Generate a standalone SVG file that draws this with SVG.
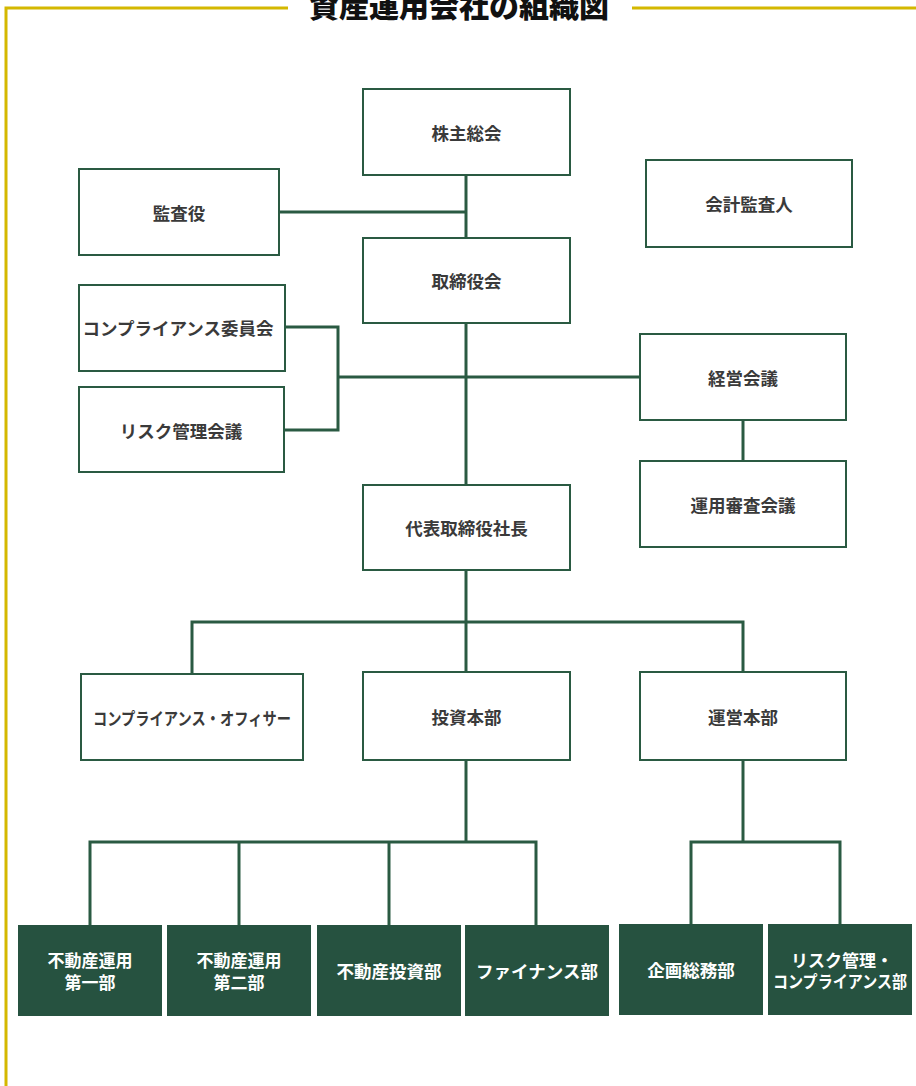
<svg xmlns="http://www.w3.org/2000/svg" width="916" height="1086" viewBox="0 0 916 1086">
<style>
.frame{fill:none;stroke:#d4b800;stroke-width:3}
.box{fill:#ffffff;stroke:#2a5a42;stroke-width:2}
.dbox{fill:#265240;stroke:none}
.t{font-family:"Noto Sans CJK JP","Noto Sans CJK SC",sans-serif;font-weight:bold;font-size:17.5px;fill:#3a3a3a;text-anchor:middle;dominant-baseline:central}
.w{fill:#ffffff}
.s{font-size:17px}
.title{font-family:"Noto Sans CJK JP","Noto Sans CJK SC",sans-serif;font-weight:900;font-size:30px;fill:#111111;text-anchor:middle}
.c{fill:none;stroke:#2a5a42;stroke-width:3}
</style>
<rect width="916" height="1086" fill="#ffffff"/>
<g id="frame">
<polyline class="frame" points="288,8 6,8 6,1086"/>
<line class="frame" x1="632" y1="8" x2="916" y2="8"/>
<text class="title" x="459" y="17">資産運用会社の組織図</text>
</g>
<g id="connectors">
<line class="c" x1="466" y1="175" x2="466" y2="238"/>
<line class="c" x1="279" y1="212" x2="466" y2="212"/>
<line class="c" x1="466" y1="323" x2="466" y2="485"/>
<polyline class="c" points="285,327 338,327 338,430 284,430"/>
<line class="c" x1="338" y1="377" x2="640" y2="377"/>
<line class="c" x1="743" y1="420" x2="743" y2="461"/>
<line class="c" x1="466" y1="570" x2="466" y2="672"/>
<polyline class="c" points="192,674 192,622 743,622 743,672"/>
<line class="c" x1="466" y1="760" x2="466" y2="842"/>
<polyline class="c" points="90,925 90,842 536,842 536,925"/>
<line class="c" x1="239" y1="842" x2="239" y2="925"/>
<line class="c" x1="389" y1="842" x2="389" y2="925"/>
<line class="c" x1="743" y1="760" x2="743" y2="842"/>
<polyline class="c" points="691,925 691,842 840,842 840,925"/>
</g>
<g id="n-kabunushi"><rect class="box" x="363" y="89" width="207" height="86"/><text class="t" x="466.5" y="132">株主総会</text></g>
<g id="n-kansayaku"><rect class="box" x="79" y="169" width="200" height="86"/><text class="t" x="179" y="212">監査役</text></g>
<g id="n-kaikei"><rect class="box" x="646" y="160" width="206" height="87"/><text class="t" x="749" y="203">会計監査人</text></g>
<g id="n-torishimariyakukai"><rect class="box" x="363" y="238" width="207" height="85"/><text class="t" x="466.5" y="280">取締役会</text></g>
<g id="n-compliance-iinkai"><rect class="box" x="79" y="285" width="206" height="86"/><text class="t" x="178" y="327">コンプライアンス委員会</text></g>
<g id="n-risk-kaigi"><rect class="box" x="79" y="387" width="205" height="85"/><text class="t" x="181" y="430">リスク管理会議</text></g>
<g id="n-keiei"><rect class="box" x="640" y="334" width="206" height="86"/><text class="t" x="743" y="377">経営会議</text></g>
<g id="n-unyoshinsa"><rect class="box" x="640" y="461" width="206" height="86"/><text class="t" x="743" y="504">運用審査会議</text></g>
<g id="n-shacho"><rect class="box" x="363" y="485" width="207" height="85"/><text class="t" x="466.5" y="527">代表取締役社長</text></g>
<g id="n-co"><rect class="box" x="81" y="674" width="222" height="86"/><text class="t" x="192" y="717" textLength="198" lengthAdjust="spacingAndGlyphs">コンプライアンス・オフィサー</text></g>
<g id="n-toshi"><rect class="box" x="363" y="672" width="207" height="88"/><text class="t" x="466.5" y="716">投資本部</text></g>
<g id="n-unei"><rect class="box" x="640" y="672" width="206" height="88"/><text class="t" x="743" y="716">運営本部</text></g>
<g id="n-unyo1"><rect class="dbox" x="18" y="925" width="144" height="91"/><text class="t w s" x="90" y="959">不動産運用</text><text class="t w s" x="90" y="981">第一部</text></g>
<g id="n-unyo2"><rect class="dbox" x="167" y="925" width="144" height="91"/><text class="t w s" x="239" y="959">不動産運用</text><text class="t w s" x="239" y="981">第二部</text></g>
<g id="n-fudosantoshi"><rect class="dbox" x="317" y="925" width="144" height="91"/><text class="t w" x="389" y="970">不動産投資部</text></g>
<g id="n-finance"><rect class="dbox" x="465" y="925" width="144" height="91"/><text class="t w" x="537" y="970">ファイナンス部</text></g>
<g id="n-kikaku"><rect class="dbox" x="619" y="924" width="144" height="91"/><text class="t w" x="691" y="969">企画総務部</text></g>
<g id="n-riskcomp"><rect class="dbox" x="768" y="924" width="144" height="91"/><text class="t w s" x="842" y="959">リスク管理・</text><text class="t w s" x="840" y="980" textLength="134" lengthAdjust="spacingAndGlyphs">コンプライアンス部</text></g>
</svg>
